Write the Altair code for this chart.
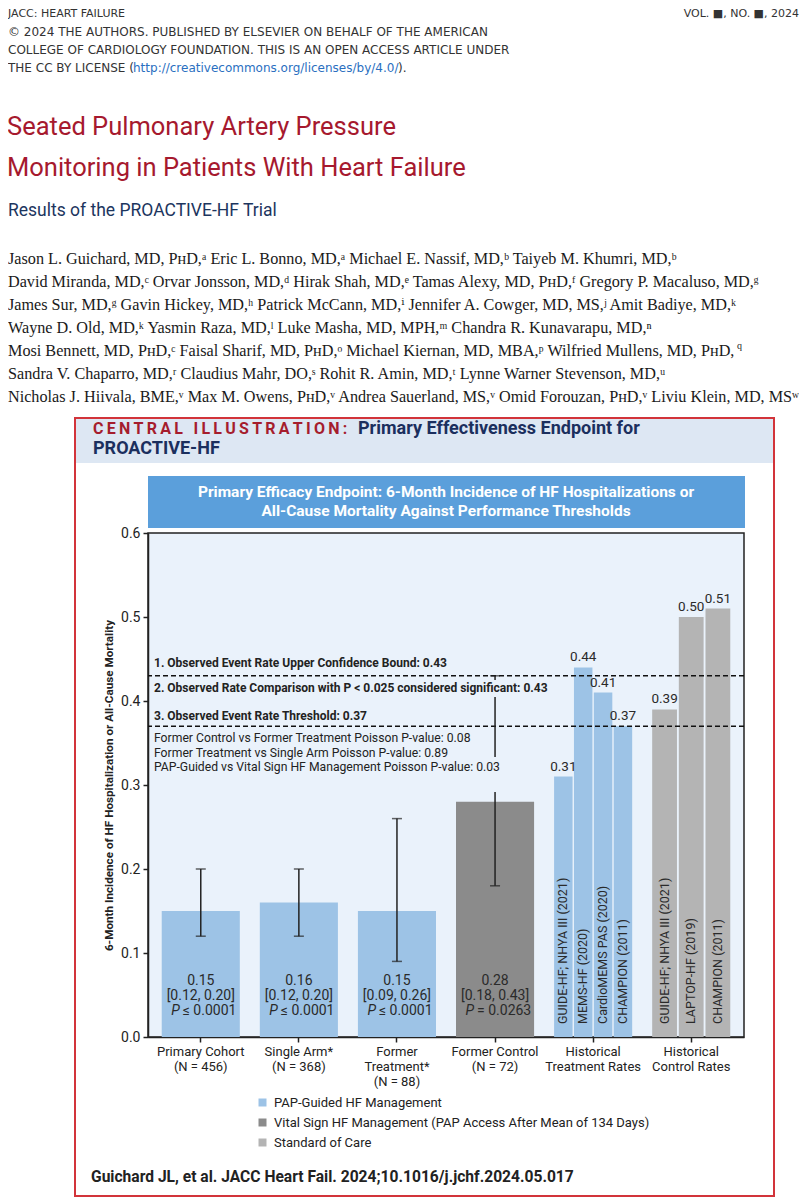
import altair as alt
import pandas as pd

# ---------------- layout constants (page px) ----------------
OX, OY = 148, 533          # plot-area origin on the page
W, H = 596, 504            # plot-area size
PLOT_BG = "#eaf2fb"
F = "Roboto"
SERIF = "Liberation Serif, DejaVu Serif"
HDR = "DejaVu Sans"
TS = "\u2009"              # thin space used as letter spacing

# ---------------- data ----------------
groups = ["Primary Cohort|(N = 456)", "Single Arm*|(N = 368)", "Former|Treatment*|(N = 88)",
          "Former Control|(N = 72)", "Historical|Treatment Rates", "Historical|Control Rates"]
arm_values = [0.15, 0.16, 0.15, 0.28]
arm_ci_low = [0.12, 0.12, 0.09, 0.18]
arm_ci_high = [0.20, 0.20, 0.26, 0.43]
arm_p_rest = ["≤ 0.0001", "≤ 0.0001", "≤ 0.0001", "= 0.0263"]
arm_type_idx = [0, 0, 0, 1]

treat_trials = ["GUIDE-HF; NHYA III (2021)", "MEMS-HF (2020)", "CardioMEMS PAS (2020)", "CHAMPION (2011)"]
treat_values = [0.31, 0.44, 0.41, 0.37]
ctrl_trials = ["GUIDE-HF; NHYA III (2021)", "LAPTOP-HF (2019)", "CHAMPION (2011)"]
ctrl_values = [0.39, 0.50, 0.51]

thresholds = [0.43, 0.37]
management = ["PAP-Guided HF Management",
              "Vital Sign HF Management (PAP Access After Mean of 134 Days)",
              "Standard of Care"]
management_colors = ["#9dc3e6", "#8b8b8b", "#b4b4b4"]
y_ticks = [0.0, 0.1, 0.2, 0.3, 0.4, 0.5, 0.6]
y_title = "6-Month Incidence of HF Hospitalization or All-Cause Mortality"

annotations_bold = ["1. Observed Event Rate Upper Confidence Bound: 0.43",
                    "2. Observed Rate Comparison with P < 0.025 considered significant: 0.43",
                    "3. Observed Event Rate Threshold: 0.37"]
annotations_reg = ["Former Control vs Former Treatment Poisson P-value: 0.08",
                   "Former Treatment vs Single Arm Poisson P-value: 0.89",
                   "PAP-Guided vs Vital Sign HF Management Poisson P-value: 0.03"]

header_lines = ["© 2024 THE AUTHORS. PUBLISHED BY ELSEVIER ON BEHALF OF THE AMERICAN",
                "COLLEGE OF CARDIOLOGY FOUNDATION. THIS IS AN OPEN ACCESS ARTICLE UNDER"]
title_lines = ["Seated Pulmonary Artery Pressure", "Monitoring in Patients With Heart Failure"]
subtitle = "Results of the PROACTIVE-HF Trial"
author_lines = [
    "Jason L. Guichard, MD, PʜD,ᵃ Eric L. Bonno, MD,ᵃ Michael E. Nassif, MD,ᵇ Taiyeb M. Khumri, MD,ᵇ",
    "David Miranda, MD,ᶜ Orvar Jonsson, MD,ᵈ Hirak Shah, MD,ᵉ Tamas Alexy, MD, PʜD,ᶠ Gregory P. Macaluso, MD,ᵍ",
    "James Sur, MD,ᵍ Gavin Hickey, MD,ʰ Patrick McCann, MD,ⁱ Jennifer A. Cowger, MD, MS,ʲ Amit Badiye, MD,ᵏ",
    "Wayne D. Old, MD,ᵏ Yasmin Raza, MD,ˡ Luke Masha, MD, MPH,ᵐ Chandra R. Kunavarapu, MD,ⁿ",
    "Mosi Bennett, MD, PʜD,ᶜ Faisal Sharif, MD, PʜD,ᵒ Michael Kiernan, MD, MBA,ᵖ Wilfried Mullens, MD, PʜD,",
    "Sandra V. Chaparro, MD,ʳ Claudius Mahr, DO,ˢ Rohit R. Amin, MD,ᵗ Lynne Warner Stevenson, MD,ᵘ",
    "Nicholas J. Hiivala, BME,ᵛ Max M. Owens, PʜD,ᵛ Andrea Sauerland, MS,ᵛ Omid Forouzan, PʜD,ᵛ Liviu Klein, MD, MSʷ",
]
citation = "Guichard JL, et al. JACC Heart Fail. 2024;10.1016/j.jchf.2024.05.017"

# ---------------- tables ----------------
arms = pd.DataFrame({"group": groups[:4], "value": arm_values, "lo": arm_ci_low, "hi": arm_ci_high,
                     "prest": arm_p_rest, "type": [management[i] for i in arm_type_idx]})
arms["label"] = [f"{v:.2f}\n[{l:.2f}, {h:.2f}]" for v, l, h in zip(arm_values, arm_ci_low, arm_ci_high)]
arms["zero"] = 0.0
arms["pchar"] = "P"
caps_df = pd.DataFrame({"group": groups[:4] * 2, "v": arm_ci_low + arm_ci_high})
treat = pd.DataFrame({"group": groups[4], "slot": list(range(len(treat_trials))), "trial": treat_trials,
                      "value": treat_values, "type": management[0], "zero": 0.0})
ctrl = pd.DataFrame({"group": groups[5], "slot": list(range(len(ctrl_trials))), "trial": ctrl_trials,
                     "value": ctrl_values, "type": management[2], "zero": 0.0})
thr_df = pd.DataFrame({"t": thresholds})

# ---------------- encodings ----------------
xscale = alt.Scale(domain=groups, paddingInner=0.204, paddingOuter=0.14)
xaxis = alt.Axis(labelExpr="split(datum.label, '|')", labelAngle=0, labelFont=F, labelFontSize=13,
                 labelColor="#222", labelLineHeight=15, labelPadding=3, labelBaseline="top",
                 tickSize=5, tickWidth=1.5, tickColor="#222", domainColor="#222", domainWidth=1.5)
yscale = alt.Scale(domain=[0, 0.6], nice=False, zero=True)
yaxis = alt.Axis(values=y_ticks, format=".1f", labelFont=F, labelFontSize=14, labelColor="#222",
                 labelPadding=3, tickSize=5, tickWidth=1.5, tickColor="#222", domainColor="#222",
                 domainWidth=1.5, grid=False, titleFont=F, titleFontSize=11.7, titleFontWeight="bold",
                 titleColor="#222", titlePadding=6)


def X():
    return alt.X("group:N", scale=xscale, axis=xaxis, title=None)


def Y(f):
    return alt.Y(f"{f}:Q", scale=yscale, axis=yaxis, title=y_title)


color = alt.Color("type:N", scale=alt.Scale(domain=management, range=management_colors),
                  legend=alt.Legend(orient="none", legendX=108, legendY=563, direction="vertical",
                                    title=None, symbolType="square", symbolSize=64,
                                    symbolStrokeWidth=0, labelFont=F, labelFontSize=13,
                                    labelColor="#222", rowPadding=6, labelOffset=5, labelLimit=0))


# ---------------- helpers for page furniture ----------------
def T(text, x, y, size, color="#222", weight="normal", font=F, align="left", style="normal"):
    return alt.Chart(pd.DataFrame({"t": [text]})).mark_text(
        align=align, baseline="middle", fontSize=size, font=font, fontWeight=weight,
        fontStyle=style, color=color).encode(text="t:N", x=alt.value(x - OX), y=alt.value(y - OY))


def R(x1, x2, y1, y2, fill=None, stroke=None, sw=0):
    kw = {}
    if fill is not None:
        kw["fill"] = fill
    else:
        kw["fillOpacity"] = 0
    if stroke is not None:
        kw["stroke"] = stroke
        kw["strokeWidth"] = sw
    return alt.Chart(pd.DataFrame({"a": [0]})).mark_rect(**kw).encode(
        x=alt.value(x1 - OX), x2=alt.value(x2 - OX), y=alt.value(y1 - OY), y2=alt.value(y2 - OY))


deco = [
    R(76, 773, 419, 463, fill="#dde7f3"),
    R(75, 774, 418, 1196, stroke="#d2343a", sw=2),
    R(148, 745, 476, 528, fill="#5b9fdb"),
]

central = TS.join("CENTRAL ILLUSTRATION:")
page_text = [
    T("JACC: HEART FAILURE", 8, 14, 11, "#333", font=HDR),
    T("VOL. ■, NO. ■, 2024", 799, 14, 11, "#333", font=HDR, align="right"),
    T(header_lines[0], 8, 32, 12, "#333", font=HDR),
    T(header_lines[1], 8, 50, 12, "#333", font=HDR),
    T("THE CC BY LICENSE (", 8, 68, 12, "#333", font=HDR),
    T("http://creativecommons.org/licenses/by/4.0/", 133, 68, 12, "#2a6fbf", font=HDR),
    T(").", 398, 68, 12, "#333", font=HDR),
    T(title_lines[0], 7, 127, 25.5, "#a6192e"),
    T(title_lines[1], 7, 168, 25.5, "#a6192e"),
    T(subtitle, 8, 211, 17.5, "#1c355e"),
]
for i, line in enumerate(author_lines):
    page_text.append(T(line, 8, 259 + 23 * i, 16.2, "#1a1a1a", font=SERIF))
page_text.append(T("q", 737, 351 - 5, 10, "#1a1a1a", font=SERIF))

page_text += [
    T(central, 93, 429, 16, "#a51d2d", weight="bold"),
    T("Primary Effectiveness Endpoint for", 358, 429, 18, "#1b2f5e", weight="bold"),
    T("PROACTIVE-HF", 93, 449, 18, "#1b2f5e", weight="bold"),
    T("Primary Efficacy Endpoint: 6-Month Incidence of HF Hospitalizations or", 446, 492, 15.5,
      "white", weight="bold", align="center"),
    T("All-Cause Mortality Against Performance Thresholds", 446, 511, 15.5, "white", weight="bold",
      align="center"),
    T(citation, 91, 1177, 15.6, "#222", weight="bold"),
]

ann = []
for txt_, yy in zip(annotations_bold, [663, 688, 716]):
    ann.append(T(txt_, 154, yy, 12, "#222", weight="bold"))
for txt_, yy in zip(annotations_reg, [738, 752.5, 767]):
    ann.append(T(txt_, 154, yy, 12.2, "#222"))

# ---------------- data layers ----------------
bars_arm = alt.Chart(arms).mark_bar().encode(x=X(), y=Y("value"), color=color)
lbl_arm = alt.Chart(arms).mark_text(lineBreak="\n", baseline="middle", lineHeight=15, fontSize=14,
                                    font=F, color="#2a2a2a", dy=-56.5).encode(
    x=X(), y=Y("zero"), text="label:N")
lbl_p = alt.Chart(arms).mark_text(baseline="middle", align="right", fontSize=14, font=F,
                                  fontStyle="italic", color="#2a2a2a", dy=-26.5, dx=-21).encode(
    x=X(), y=Y("zero"), text="pchar:N")
lbl_prest = alt.Chart(arms).mark_text(baseline="middle", align="left", fontSize=14, font=F,
                                      color="#2a2a2a", dy=-26.5, dx=-18).encode(
    x=X(), y=Y("zero"), text="prest:N")

err = alt.Chart(arms).mark_rule(color="#222", strokeWidth=1.5).encode(x=X(), y=Y("lo"), y2="hi:Q")
caps = alt.Chart(caps_df).mark_tick(orient="horizontal", color="#222", thickness=1.5).encode(
    x=X(), y=Y("v"), size=alt.value(10))
thr = alt.Chart(thr_df).mark_rule(strokeDash=[5, 3], strokeWidth=1.5, color="#111").encode(y=Y("t"))


def hist_layer(df, n):
    xo = alt.XOffset("slot:O", scale=alt.Scale(domain=list(range(n)), paddingInner=0.07))
    b = alt.Chart(df).mark_bar().encode(x=X(), xOffset=xo, y=Y("value"), color=color)
    top = alt.Chart(df).mark_text(baseline="bottom", dy=-3, fontSize=13.5, font=F, color="#2a2a2a").encode(
        x=X(), xOffset=xo, y=Y("value"), text=alt.Text("value:Q", format=".2f"))
    vert = alt.Chart(df).mark_text(angle=270, align="left", baseline="middle", dx=13, fontSize=12.5,
                                   font=F, color="#2a2a2a").encode(
        x=X(), xOffset=xo, y=Y("zero"), text="trial:N")
    return alt.layer(b, top, vert)


gaps = [R(489, 497, 680, 697, fill=PLOT_BG), R(489, 497, 757, 792, fill=PLOT_BG)]

chart = alt.layer(
    *deco,
    bars_arm, hist_layer(treat, 4), hist_layer(ctrl, 3),
    thr, err, caps, *gaps,
    lbl_arm, lbl_p, lbl_prest,
    *ann, *page_text,
).resolve_scale(xOffset="independent").properties(
    width=W, height=H,
    padding={"left": OX - 8, "top": OY - 8, "right": 791 - (OX - 8) - W, "bottom": 1192 - (OY - 8) - H},
    autosize=alt.AutoSizeParams(type="none"),
    background="white",
).configure_view(fill=PLOT_BG, stroke="#222", strokeWidth=1.5)

chart.save("out.html", embed_options={"renderer": "svg", "actions": False})
